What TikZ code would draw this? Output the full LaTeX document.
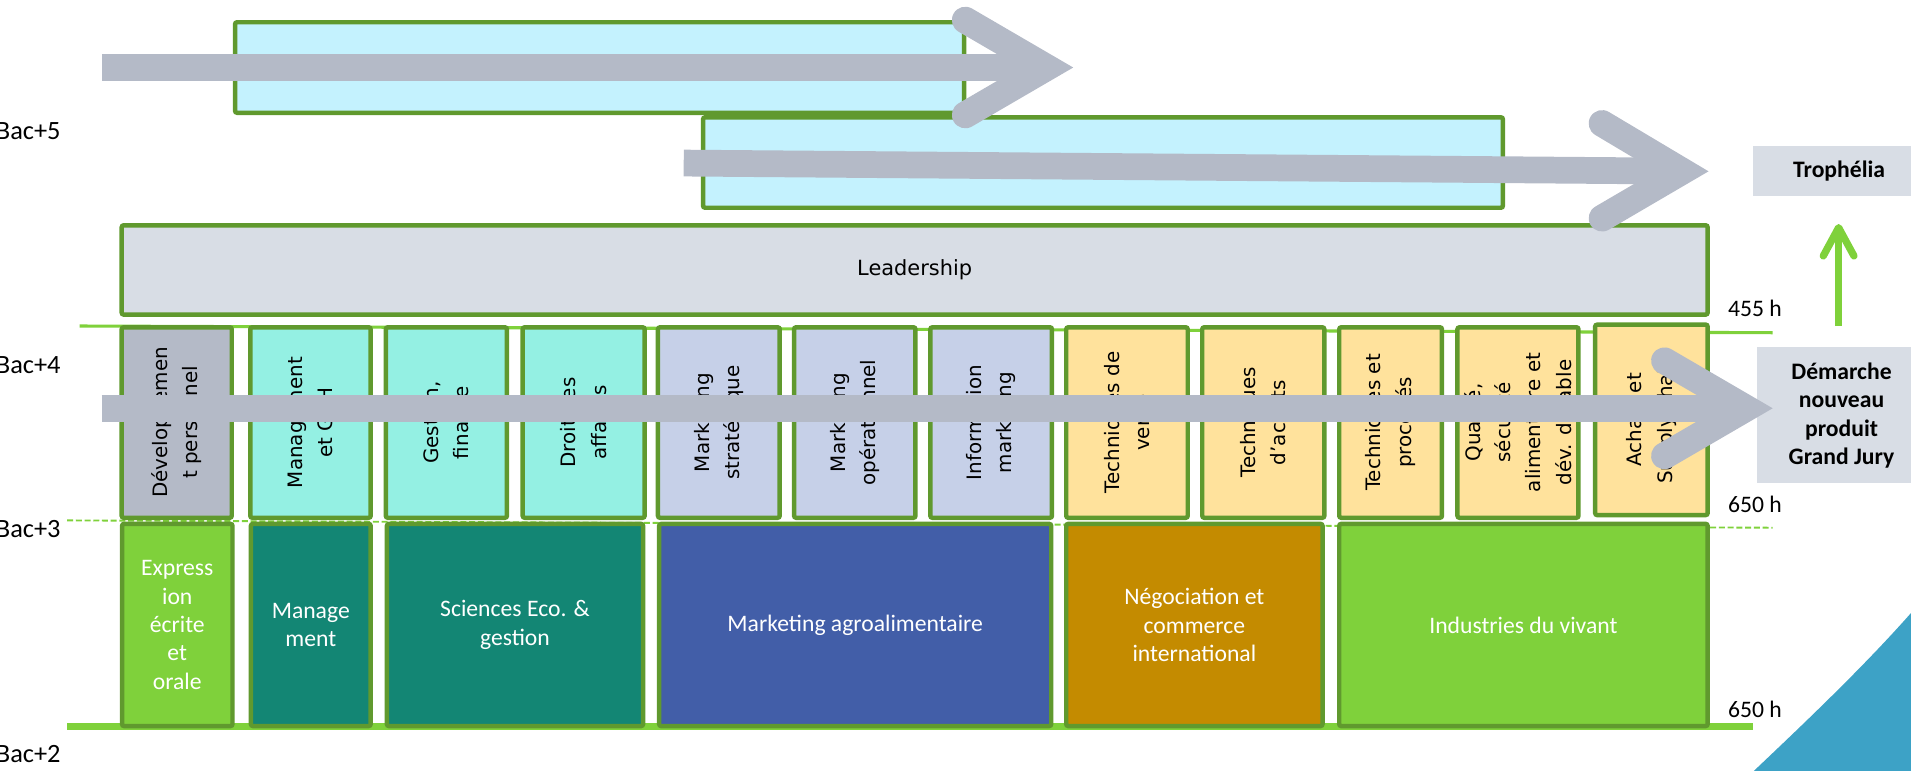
\documentclass[tikz,border=0pt]{standalone}
\usepackage{fontspec}
\setmainfont{Carlito}
\newfontfamily\vfont{DejaVu Sans}
\definecolor{bord}{RGB}{96,153,46}
\definecolor{lgreen}{RGB}{127,209,59}
\definecolor{cyanbox}{RGB}{196,242,254}
\definecolor{agray}{RGB}{180,186,199}
\definecolor{leadgray}{RGB}{216,221,229}
\definecolor{aqua}{RGB}{148,240,227}
\definecolor{mklight}{RGB}{198,208,232}
\definecolor{ylw}{RGB}{255,226,156}
\definecolor{tealb}{RGB}{19,134,116}
\definecolor{mblue}{RGB}{66,94,168}
\definecolor{goldb}{RGB}{196,139,0}
\definecolor{blueshape}{RGB}{61,162,198}
\newcommand\mkbox[6]{%
  \node[#1, minimum width={0.025cm*(#5-#3-3.7)}, minimum height={0.025cm*(#6-#4-3.7)}] (#2) at ({(#3+#5)/2},{(#4+#6)/2}) {};}
\tikzset{
  box/.style={rectangle, draw=bord, line width=2.6pt, rounded corners=1.2pt, inner sep=0pt, outer sep=0pt},
  vlab/.style={rotate=90, font=\vfont\fontsize{11.6}{17.7}\selectfont, align=center, inner sep=0pt},
  blab/.style={text=white, font=\fontsize{13.8}{16.6}\selectfont, align=center, inner sep=0pt},
  hlab/.style={font=\fontsize{13.8}{16.6}\selectfont, inner sep=0pt},
  baclab/.style={font=\fontsize{15.4}{17}\selectfont, inner sep=0pt, anchor=east},
  rbox/.style={font=\bfseries\fontsize{13.8}{16.6}\selectfont, align=center, inner sep=0pt},
  shaft/.style={draw=agray, line width=15.6pt},
  head/.style={draw=agray, line width=15.6pt, line cap=round, line join=miter},
}
\begin{document}
\begin{tikzpicture}[x=0.025cm, y=-0.025cm]
\useasboundingbox (0,0) rectangle (1568,632.6);
\clip (0,0) rectangle (1568,632.6);

% blue decoration
\fill[blueshape] (1568,503) .. controls (1530,546) and (1484,590) .. (1439,632.6) -- (1568,640) -- cycle;

% guide lines
\coordinate (l1a) at (65.3,267.5); \coordinate (l1b) at (1454.5,273);
\coordinate (l2a) at (55,427); \coordinate (l2b) at (1454.5,433);
\coordinate (l3a) at (55,596); \coordinate (l3b) at (1438.5,596);
\draw[lgreen, line width=1.8pt] (l1a) -- (l1b);
\draw[lgreen, line width=1.1pt, dash pattern=on 3.5pt off 1.6pt] (l2a) -- (l2b);
\draw[lgreen, line width=4.25pt] (l3a) -- (l3b);

% level labels
\node[baclab] (b5) at (50,108) {Bac+5};
\node[baclab] (b4) at (50,299.6) {Bac+4};
\node[baclab] (b3) at (50,434) {Bac+3};
\node[baclab] (b2) at (50,619) {Bac+2};

% top boxes
\mkbox{box, fill=cyanbox}{top1}{191}{16.4}{793}{94.4}
\mkbox{box, fill=cyanbox}{top2}{575}{94.4}{1235}{172.3}
\mkbox{box, fill=leadgray}{lead}{98}{183}{1403}{260}
\node[font=\vfont\fontsize{12.2}{14}\selectfont, inner sep=0pt] (leadt) at (lead) {Leadership};

% upper row
\mkbox{box, fill=agray}{u1}{98}{266.7}{192}{426.7}
\mkbox{box, fill=aqua}{u2}{203.5}{266.7}{306}{426.7}
\mkbox{box, fill=aqua}{u3}{314.7}{266.7}{417.8}{426.7}
\mkbox{box, fill=aqua}{u4}{427}{266.7}{530.8}{426.7}
\mkbox{box, fill=mklight}{u5}{538}{266.7}{641.6}{426.7}
\mkbox{box, fill=mklight}{u6}{649.7}{266.7}{753}{426.7}
\mkbox{box, fill=mklight}{u7}{761.5}{266.7}{865}{426.7}
\mkbox{box, fill=ylw}{u8}{873}{266.7}{976.4}{426.7}
\mkbox{box, fill=ylw}{u9}{984.6}{266.7}{1088.5}{426.7}
\mkbox{box, fill=ylw}{u10}{1097}{266.7}{1185}{426.7}
\mkbox{box, fill=ylw}{u11}{1194}{266.7}{1297}{426.7}
\mkbox{box, fill=ylw}{u12}{1307}{264.5}{1403}{424.5}
\node[vlab] (t1) at (u1) {Développemen\\t personnel};
\node[vlab] (t2) at (u2) {Management\\et GRH};
\node[vlab] (t3) at (u3) {Gestion,\\finance};
\node[vlab] (t4) at (u4) {Droit des\\affaires};
\node[vlab] (t5) at (u5) {Marketing\\stratégique};
\node[vlab] (t6) at (u6) {Marketing\\opérationnel};
\node[vlab] (t7) at (u7) {Information\\marketing};
\node[vlab] (t8) at (u8) {Techniques de\\vente};
\node[vlab] (t9) at (u9) {Techniques\\d’achats};
\node[vlab] (t10) at (u10) {Techniques et\\procédés};
\node[vlab] (t11) at (u11) {Qualité,\\sécurité\\alimentaire et\\dév. durable};
\node[vlab] (t12) at (u12) {Achats et\\Supply chain};

% lower row
\mkbox{box, fill=lgreen}{d1}{98.3}{428}{192.6}{597.6}
\mkbox{box, fill=tealb}{d2}{204}{428}{306}{597.6}
\mkbox{box, fill=tealb}{d3}{315.6}{428}{529.5}{597.6}
\mkbox{box, fill=mblue}{d4}{539}{428}{864.4}{597.6}
\mkbox{box, fill=goldb}{d5}{873}{428}{1087}{597.6}
\mkbox{box, fill=lgreen}{d6}{1097}{428}{1403}{597.6}
\node[blab] (s1) at (d1) {Express\\ion\\écrite\\et\\orale};
\node[blab] (s2) at (d2) {Manage\\ment};
\node[blab] (s3) at (d3) {Sciences Eco. \&\\gestion};
\node[blab] (s4) at (d4) {Marketing agroalimentaire};
\node[blab] (s5) at (d5) {Négociation et\\commerce\\international};
\node[blab] (s6) at (d6) {Industries du vivant};

% hours
\node[hlab] (h1) at (1440,253) {455 h};
\node[hlab] (h2) at (1440,414) {650 h};
\node[hlab] (h3) at (1440,582) {650 h};

% right boxes
\node[fill=leadgray, minimum width={0.025cm*135}, minimum height={0.025cm*40.5}, inner sep=0pt] (troph) at (1506,140.3) {};
\node[rbox] (tropht) at (1509,140.5) {Trophélia};
\node[fill=leadgray, minimum width={0.025cm*132}, minimum height={0.025cm*111.2}, inner sep=0pt] (dem) at (1507.7,340.4) {};
\node[rbox] (demt) at (1511,341) {Démarche\\nouveau\\produit\\Grand Jury};

% green up arrow
\coordinate (g0) at (1508.6,267.5);
\coordinate (g1) at (1508.6,186.8);
\coordinate (gl) at (1496,210);
\coordinate (gr) at (1521.2,210);
\draw[lgreen, line width=4.25pt] (g0) -- (g1);
\draw[lgreen, line width=4.25pt, line cap=round, line join=round] (gl) -- (g1) -- (gr);

% grey arrows
\coordinate (a1s) at (83.5,55.5); \coordinate (a1e) at (853,55.5); \coordinate (a1v) at (858.8,55.4);
\coordinate (a1t) at (792,16.5); \coordinate (a1b) at (792,94.3);
\coordinate (a2s) at (561,133.8); \coordinate (a2e) at (1375,140.4); \coordinate (a2v) at (1380.3,140.5);
\coordinate (a2t) at (1314.5,101.3); \coordinate (a2b) at (1314.5,179);
\coordinate (a3s) at (83.4,335); \coordinate (a3e) at (1427,335); \coordinate (a3v) at (1432.7,335);
\coordinate (a3t) at (1365.7,296); \coordinate (a3b) at (1365.7,374);
\draw[shaft] (a1s) -- (a1e);
\draw[head] (a1t) -- (a1v) -- (a1b);
\draw[shaft] (a2s) -- (a2e);
\draw[head] (a2t) -- (a2v) -- (a2b);
\draw[shaft] (a3s) -- (a3e);
\draw[head] (a3t) -- (a3v) -- (a3b);
\end{tikzpicture}
\end{document}
